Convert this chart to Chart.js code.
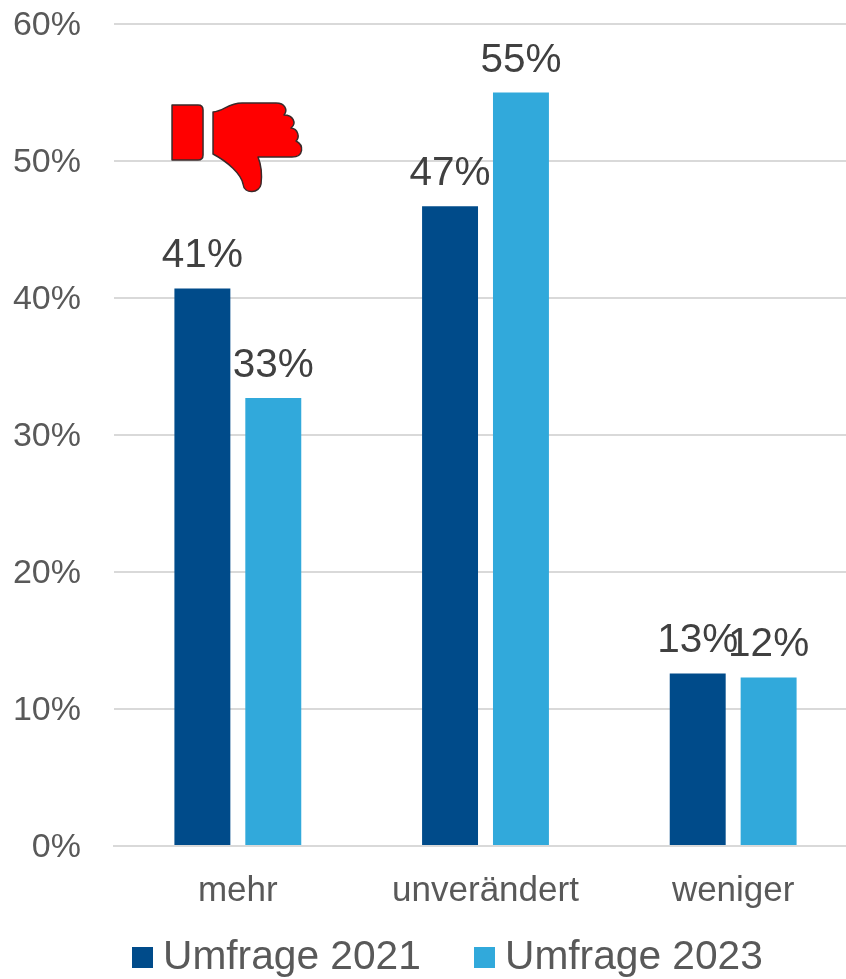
<!DOCTYPE html>
<html><head><meta charset="utf-8">
<style>html,body{margin:0;padding:0;background:#fff;overflow:hidden}#w{position:relative;width:846px;height:979px;overflow:hidden}canvas{display:block}</style>
<script src="https://cdn.jsdelivr.net/npm/chart.js@4"></script></head>
<body><div id="w"><canvas id="c" width="860" height="979"></canvas></div>
<script>
const categories = ["mehr","unverändert","weniger"];
const series2021 = [40.7,46.7,12.6];
const series2023 = [32.7,55,12.3];
const labels2021 = ["41%","47%","13%"];
const labels2023 = ["33%","55%","12%"];
const FONT = '"Liberation Sans", Arial, sans-serif';
const TXT = '#404040';
const AXIS = '#595959';
const thumb = {
  id:'thumb',
  afterDatasetsDraw(c){
    const g=c.ctx, x=c.scales.x.getPixelForValue(0)-237.8, y=c.scales.y.getPixelForValue(50)-161;
    g.save();g.translate(x,y);
    g.fillStyle='#ff0000';g.strokeStyle='#3a2a2a';g.lineWidth=1.5;g.lineJoin='round';
    g.beginPath();g.moveTo(172,105);g.lineTo(198,105);g.quadraticCurveTo(203,105,203,110);
    g.lineTo(203,155);g.quadraticCurveTo(203,160,198,160);g.lineTo(172,160);g.closePath();g.fill();g.stroke();
    g.beginPath();
    g.moveTo(213,112);
    g.bezierCurveTo(224,111,228,103,242,103);
    g.lineTo(276,103);
    g.bezierCurveTo(285,103,288,110,284,115);
    g.bezierCurveTo(293,115,297,123,291,128);
    g.bezierCurveTo(298,129,300,137,296,141);
    g.bezierCurveTo(304,145,304,157,292,157);
    g.lineTo(258,157);
    g.bezierCurveTo(262,167,262,175,261,184);
    g.bezierCurveTo(260,193,244,195,243,184);
    g.bezierCurveTo(241,174,228,162,213,154);
    g.closePath();g.fill();g.stroke();
    g.restore();
  }
};
const dl = {
  id:'dl',
  afterDatasetsDraw(c){
    const g=c.ctx;g.save();g.font='40.5px '+FONT;g.fillStyle=TXT;g.textAlign='center';g.textBaseline='alphabetic';
    c.data.datasets.forEach((d,i)=>{
      c.getDatasetMeta(i).data.forEach((b,j)=>{
        g.fillText(d.lbl[j],b.x,b.y-21);
      });
    });
    g.restore();
  }
};
const bottomLegend = {
  id:'bottomLegend',
  afterDraw(c){
    const g=c.ctx;g.save();g.font='40.7px '+FONT;g.textAlign='left';g.textBaseline='alphabetic';
    const starts=[132,474];
    c.data.datasets.forEach((d,i)=>{
      g.fillStyle=d.backgroundColor;g.fillRect(starts[i],947,21,21);
      g.fillStyle=AXIS;g.fillText(d.label,starts[i]+31,969);
    });
    g.restore();
  }
};
new Chart(document.getElementById('c'),{
  type:'bar',
  data:{labels:categories,datasets:[
    {label:'Umfrage 2021',data:series2021,lbl:labels2021,backgroundColor:'#004b8a'},
    {label:'Umfrage 2023',data:series2023,lbl:labels2023,backgroundColor:'#31a9db'}
  ]},
  options:{
    responsive:false,animation:false,devicePixelRatio:1,
    layout:{padding:{left:0,right:3,top:24,bottom:0}},
    datasets:{bar:{categoryPercentage:0.5726,barPercentage:0.789}},
    plugins:{legend:{display:false},tooltip:{enabled:false}},
    scales:{
      x:{grid:{display:false},border:{color:'#d9d9d9',width:2},
        afterFit(s){s.height=133},
        ticks:{color:AXIS,font:{family:FONT,size:35},padding:16,maxRotation:0}},
      y:{min:0,max:60,grid:{color:'#d9d9d9',lineWidth:2,tickLength:30,tickColor:'transparent'},border:{display:false},
        afterFit(s){s.width=114},
        ticks:{stepSize:10,color:AXIS,font:{family:FONT,size:34},padding:3,labelOffset:2,callback:v=>v+'%'}}
    }
  },
  plugins:[thumb,dl,bottomLegend]
});
</script></body></html>
